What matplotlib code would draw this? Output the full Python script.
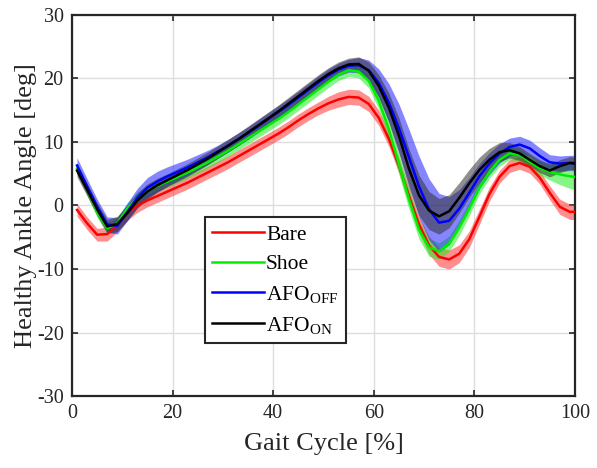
import numpy as np
import matplotlib
matplotlib.use("Agg")
import matplotlib.pyplot as plt

plt.rcParams['font.family'] = ['Liberation Serif', 'DejaVu Serif']
plt.rcParams['mathtext.fontset'] = 'custom'
plt.rcParams['mathtext.rm'] = 'Liberation Serif'
plt.rcParams['mathtext.it'] = 'Liberation Serif:italic'
plt.rcParams['axes.unicode_minus'] = False

gait = [1, 3, 5, 7, 9, 11, 13, 15, 17, 19, 21, 23, 25, 27, 29, 31, 33, 35, 37, 39,
        41, 43, 45, 47, 49, 51, 53, 55, 57, 59, 61, 63, 65, 67, 69, 71, 73, 75, 77, 79,
        81, 83, 85, 87, 89, 91, 93, 95, 97, 99, 100]

bare = [-0.7, -2.8, -4.6, -4.5, -3.0, -1.2, 0.0, 0.8, 1.5, 2.2, 2.9, 3.6, 4.4, 5.2, 6.0,
        6.8, 7.7, 8.6, 9.5, 10.4, 11.3, 12.3, 13.4, 14.4, 15.3, 16.1, 16.7, 17.1, 17.0, 16.0,
        13.8, 10.5, 6.3, 1.5, -3.0, -6.3, -8.1, -8.5, -7.6, -5.3, -1.8, 1.8, 4.5, 6.2, 6.7,
        6.1, 4.4, 2.0, -0.2, -1.0, -1.0]
bare_sd = [1.0, 1.0, 1.0, 1.1, 1.1, 1.1, 1.1, 1.0, 1.0, 1.0, 1.0, 1.0, 1.0, 1.0, 1.0,
           1.0, 1.0, 1.0, 1.0, 1.0, 1.0, 1.0, 1.0, 1.0, 1.0, 1.1, 1.2, 1.2, 1.2, 1.2,
           1.2, 1.2, 1.2, 1.2, 1.3, 1.4, 1.5, 1.5, 1.4, 1.3, 1.2, 1.1, 1.0, 1.0, 1.0,
           1.0, 1.0, 1.1, 1.2, 1.2, 1.2]

shoe = [5.8, 2.5, -1.0, -3.6, -2.8, -0.5, 1.2, 2.3, 3.1, 3.8, 4.5, 5.2, 6.0, 6.8, 7.7,
        8.6, 9.6, 10.6, 11.6, 12.6, 13.6, 14.7, 15.9, 17.1, 18.3, 19.5, 20.6, 21.3, 21.1, 19.6,
        16.5, 12.0, 6.5, 1.0, -3.8, -6.6, -7.2, -6.0, -3.5, -0.5, 2.8, 5.3, 7.2, 8.2, 8.0,
        6.9, 5.9, 5.3, 4.9, 4.6, 4.5]
shoe_sd = [0.9, 0.9, 0.9, 0.9, 0.9, 0.9, 0.9, 0.9, 0.9, 0.9, 0.9, 0.9, 0.9, 0.9, 0.9,
           0.9, 0.9, 0.9, 0.9, 0.9, 0.9, 0.9, 0.9, 0.9, 0.9, 0.9, 0.9, 1.0, 1.0, 1.1,
           1.3, 1.5, 1.6, 1.6, 1.5, 1.4, 1.3, 1.2, 1.2, 1.1, 1.0, 1.0, 1.0, 1.0, 1.0,
           1.0, 1.1, 1.3, 1.6, 1.9, 2.0]

afo_off = [6.3, 3.0, -0.2, -3.0, -3.2, -1.0, 1.2, 2.8, 3.8, 4.6, 5.3, 6.0, 6.8, 7.6, 8.5,
           9.4, 10.4, 11.4, 12.5, 13.6, 14.7, 15.8, 17.0, 18.2, 19.4, 20.5, 21.4, 22.0, 22.1, 21.3,
           19.3, 16.2, 12.2, 7.6, 3.0, -0.6, -2.7, -2.4, -0.5, 2.0, 4.6, 6.6, 8.2, 9.2, 9.6,
           9.0, 7.8, 6.8, 6.6, 6.7, 6.7]
afo_off_sd = [1.2, 1.2, 1.2, 1.2, 1.3, 1.4, 1.5, 1.6, 1.6, 1.5, 1.4, 1.3, 1.2, 1.1, 1.0,
              1.0, 1.0, 1.0, 1.0, 1.0, 1.0, 1.0, 1.0, 1.0, 1.0, 1.0, 1.0, 1.0, 1.2, 1.6,
              2.2, 3.0, 3.8, 4.4, 4.8, 4.8, 4.6, 3.8, 3.0, 2.4, 2.0, 1.7, 1.5, 1.4, 1.3,
              1.3, 1.3, 1.2, 1.2, 1.2, 1.2]

afo_on = [5.5, 2.5, -0.6, -3.3, -2.9, -1.2, 0.8, 2.2, 3.2, 4.0, 4.8, 5.6, 6.5, 7.4, 8.4,
          9.4, 10.4, 11.5, 12.6, 13.7, 14.8, 16.0, 17.2, 18.4, 19.6, 20.7, 21.6, 22.2, 22.3, 21.2,
          18.8, 15.4, 11.0, 5.8, 1.6, -0.8, -1.7, -0.9, 1.2, 3.5, 5.6, 7.2, 8.4, 8.7, 8.2,
          7.2, 6.2, 5.5, 6.2, 6.7, 6.6]
afo_on_sd = [1.0, 1.0, 1.0, 1.1, 1.2, 1.2, 1.2, 1.2, 1.1, 1.0, 1.0, 1.0, 1.0, 1.0, 1.0,
             1.0, 1.0, 1.0, 1.0, 1.0, 1.0, 1.0, 1.0, 1.0, 1.0, 1.0, 1.0, 1.0, 1.1, 1.4,
             1.8, 2.3, 2.8, 3.1, 3.2, 3.0, 2.8, 2.6, 2.4, 2.2, 2.0, 1.8, 1.5, 1.2, 1.1,
             1.0, 1.0, 1.0, 1.0, 1.0, 1.0]

labels = ['Bare', 'Shoe', 'AFO$_{\\mathrm{OFF}}$', 'AFO$_{\\mathrm{ON}}$']
colors = ['#ff0000', '#00ee00', '#0000ff', '#000000']
fill_colors = ['#ff3333', '#22ee22', '#2222ff', '#333333']
means = [bare, shoe, afo_off, afo_on]
sds = [bare_sd, shoe_sd, afo_off_sd, afo_on_sd]

fig = plt.figure(figsize=(5.97, 4.68), dpi=100)
ax = fig.add_axes([0.1206, 0.1538, 0.8424, 0.8142])

x = np.array(gait)
for m, s, fc in zip(means, sds, fill_colors):
    m = np.array(m); s = np.array(s)
    ax.fill_between(x, m - s, m + s, color=fc, alpha=0.55, linewidth=0, zorder=2)
handles = []
for m, c, lab in zip(means, colors, labels):
    h, = ax.plot(x, m, color=c, lw=1.8, label=lab, zorder=3)
    handles.append(h)

ax.set_xlim(0, 100)
ax.set_ylim(-30, 30)
ax.set_xticks([0, 20, 40, 60, 80, 100])
ax.set_yticks([-30, -20, -10, 0, 10, 20, 30])
ax.grid(True, color='#dedede', lw=1.0, zorder=0)
ax.set_axisbelow(True)
ax.tick_params(direction='in', length=4, width=1.2, colors='#262626',
               labelsize=14.5, top=True, right=True, pad=6)
for sp in ax.spines.values():
    sp.set_linewidth(1.6)
    sp.set_color('#262626')

ax.set_xlabel('Gait Cycle [%]', fontsize=19, color='#262626', labelpad=7)
ax.set_ylabel('Healthy Ankle Angle [deg]', fontsize=19, color='#262626', labelpad=0)

leg = ax.legend(handles=handles, loc='upper left', bbox_to_anchor=(0.264, 0.470),
                fontsize=15.5, frameon=True, fancybox=False, framealpha=1,
                edgecolor='#262626', handlelength=2.4, handletextpad=0.1,
                borderpad=0.35, labelspacing=0.45, borderaxespad=0)
leg.get_frame().set_linewidth(1.5)

fig.savefig('out.png', dpi=100)
